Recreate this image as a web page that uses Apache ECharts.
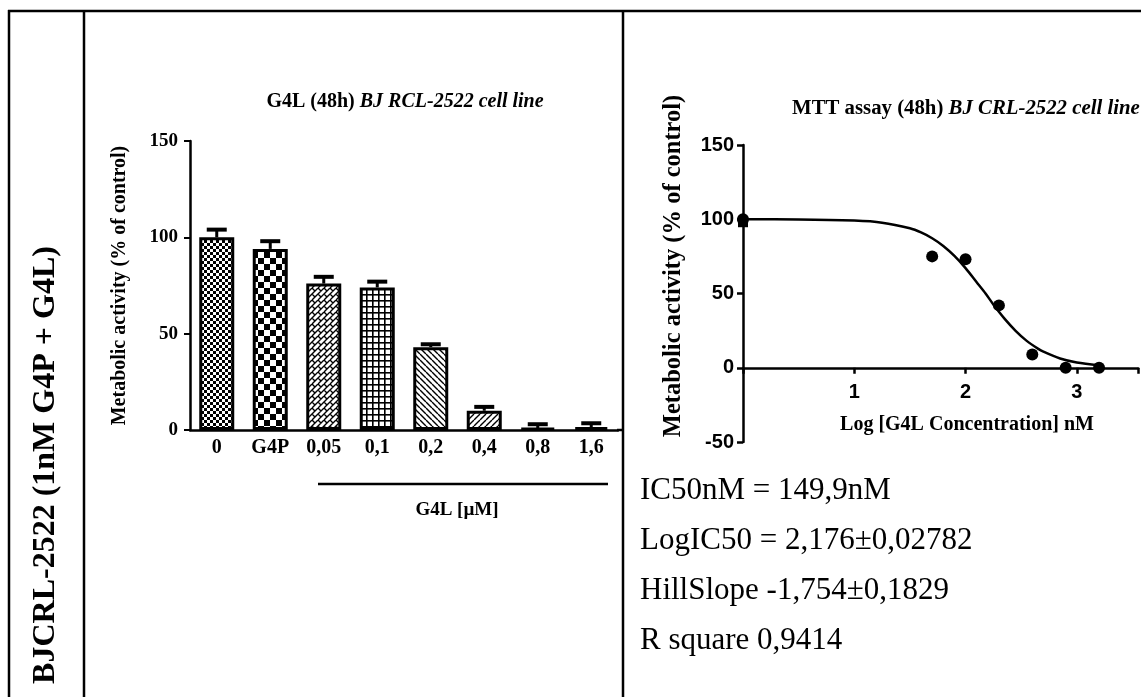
<!DOCTYPE html>
<html>
<head>
<meta charset="utf-8">
<script src="https://cdn.jsdelivr.net/npm/echarts@6/dist/echarts.min.js"></script>
<style>
  html, body { margin: 0; padding: 0; background: #fff; }
  #chart { width: 1141px; height: 697px; }
</style>
</head>
<body>
<div id="chart"></div>
<script>
// ---- Bar chart: G4L dose series (metabolic activity, % of control) ----
const barCategories = ['0', 'G4P', '0,05', '0,1', '0,2', '0,4', '0,8', '1,6'];
const barValues = [100, 94, 76, 74, 43, 10, 1, 1.5];
const barErrors = [4, 4, 3.5, 3, 1.5, 2, 2, 2];

// ---- Dose-response: log[G4L] (nM) vs metabolic activity ----
const doseLogConc = [1.70, 2.00, 2.30, 2.60, 2.90, 3.20];
const doseResponse = [75, 73, 42, 9, 0, 0];
const controlLogConc = [0, 0];
const controlResponse = [100, 98];
const fitLogConc = [0, 0.5, 1.0, 1.25, 1.5, 1.6, 1.7, 1.8, 1.9, 2.0, 2.1, 2.18, 2.25, 2.35, 2.45, 2.55, 2.65, 2.7, 2.85, 3.0, 3.2];
const fitResponse = [100, 99.9, 99.1, 97.7, 93.9, 91.1, 87.2, 82.0, 75.3, 67.1, 57.6, 50, 42.6, 33.1, 24.9, 18.1, 12.9, 10.8, 6.2, 3.5, 1.6];

// ---- Fit summary ----
const fitSummary = [
  'IC50nM = 149,9nM',
  'LogIC50 = 2,176\u00b10,02782',
  'HillSlope -1,754\u00b10,1829',
  'R square 0,9414'
];

const SERIF = '"Liberation Serif", "Times New Roman", serif';
const SANS = '"Liberation Sans", Arial, sans-serif';

// Hatch fills for the bars, built as small repeating canvas tiles
function tile(size, draw) {
  const c = document.createElement('canvas');
  c.width = size; c.height = size;
  const g = c.getContext('2d');
  g.fillStyle = '#fff'; g.fillRect(0, 0, size, size);
  g.fillStyle = '#000'; g.strokeStyle = '#000';
  draw(g, size);
  return { image: c, repeat: 'repeat' };
}
const fineCheck = tile(6, g => { g.fillRect(0, 0, 3, 3); g.fillRect(3, 3, 3, 3); });
const coarseCheck = tile(12, g => { g.fillRect(0, 0, 6, 6); g.fillRect(6, 6, 6, 6); });
const bricks = tile(12, g => {
  g.lineWidth = 1.4; g.beginPath();
  [0, 6, 12, 18, 24].forEach(k => { g.moveTo(k, 0); g.lineTo(k - 12, 12); });
  [[0, 0, 3, 3], [6, 0, 9, 3], [6, 6, 9, 9], [0, 6, 3, 9]].forEach(s => { g.moveTo(s[0], s[1]); g.lineTo(s[2], s[3]); });
  g.stroke();
});
const gridFill = tile(6, g => { g.fillRect(0, 0, 6, 1.6); g.fillRect(0, 0, 1.6, 6); });
const backHatch = tile(6, g => {
  g.lineWidth = 1.4; g.beginPath();
  [-6, 0, 6].forEach(k => { g.moveTo(k, 0); g.lineTo(k + 6, 6); });
  g.stroke();
});
const fwdHatch = tile(6, g => {
  g.lineWidth = 1.4; g.beginPath();
  [0, 6, 12].forEach(k => { g.moveTo(k, 0); g.lineTo(k - 6, 6); });
  g.stroke();
});
const barFills = [fineCheck, coarseCheck, bricks, gridFill, backHatch, fwdHatch, fwdHatch, fwdHatch];

const chart = echarts.init(document.getElementById('chart'), null, { renderer: 'canvas' });

const axisBlack = { color: '#000', width: 2.5 };
const LOG_MAX = 3.55;

const option = {
  animation: false,
  backgroundColor: '#fff',
  grid: [
    // bar chart
    { left: 190, top: 141, width: 428, height: 289 },
    // dose-response plotting area (0..150), its x axis sits on y = 0
    { left: 743, top: 145, width: 398, height: 222.75 },
    // full-height frame carrying the -50..150 y axis
    { left: 743, top: 145, width: 398, height: 297 }
  ],
  xAxis: [
    {
      gridIndex: 0, type: 'category', data: barCategories,
      axisLine: { lineStyle: axisBlack },
      axisTick: { alignWithLabel: true, length: 6, lineStyle: { color: '#000', width: 2 } },
      axisLabel: { color: '#000', fontFamily: SERIF, fontWeight: 'bold', fontSize: 20, margin: 8 }
    },
    {
      gridIndex: 1, type: 'value', min: 0, max: LOG_MAX, interval: 1,
      axisLine: { onZero: false, lineStyle: axisBlack },
      axisTick: { length: 6, lineStyle: { color: '#000', width: 2.5 } },
      axisLabel: {
        color: '#000', fontFamily: SANS, fontWeight: 'bold', fontSize: 20, margin: 15,
        formatter: v => (Number.isInteger(v) && v >= 1 && v <= 3) ? String(v) : ''
      },
      splitLine: { show: false }
    },
    { gridIndex: 2, type: 'value', min: 0, max: LOG_MAX, show: false }
  ],
  yAxis: [
    {
      gridIndex: 0, type: 'value', min: 0, max: 150, interval: 50,
      name: 'Metabolic activity (% of control)', nameLocation: 'middle', nameGap: 60, nameRotate: 90,
      nameTextStyle: { color: '#000', fontFamily: SERIF, fontWeight: 'bold', fontSize: 20 },
      axisLine: { show: true, lineStyle: axisBlack },
      axisTick: { show: true, length: 6, lineStyle: { color: '#000', width: 2 } },
      axisLabel: { color: '#000', fontFamily: SERIF, fontWeight: 'bold', fontSize: 19, margin: 12 },
      splitLine: { show: false }
    },
    { gridIndex: 1, type: 'value', min: 0, max: 150, show: false },
    {
      gridIndex: 2, type: 'value', min: -50, max: 150, interval: 50,
      axisLine: { show: true, onZero: false, lineStyle: axisBlack },
      axisTick: { show: true, length: 6, lineStyle: { color: '#000', width: 2.5 } },
      axisLabel: { color: '#000', fontFamily: SANS, fontWeight: 'bold', fontSize: 20, margin: 9 },
      splitLine: { show: false }
    }
  ],
  series: [
    {
      type: 'bar', xAxisIndex: 0, yAxisIndex: 0, barWidth: 35,
      data: barValues.map((v, i) => ({ value: v, itemStyle: { color: barFills[i] } })),
      itemStyle: { borderColor: '#000', borderWidth: 3 }
    },
    {
      // upper error bars (SEM) on the bars
      type: 'custom', xAxisIndex: 0, yAxisIndex: 0, z: 5,
      data: barValues.map((v, i) => [i, v, barErrors[i]]),
      renderItem: (params, api) => {
        const i = api.value(0), v = api.value(1), e = api.value(2);
        const base = api.coord([i, v]);
        const top = api.coord([i, v + e]);
        const hw = 10;
        return {
          type: 'group',
          children: [
            { type: 'line', shape: { x1: base[0], y1: base[1], x2: top[0], y2: top[1] }, style: { stroke: '#000', lineWidth: 3 } },
            { type: 'line', shape: { x1: top[0] - hw, y1: top[1], x2: top[0] + hw, y2: top[1] }, style: { stroke: '#000', lineWidth: 4 } }
          ]
        };
      }
    },
    {
      // fitted sigmoidal dose-response curve
      type: 'line', xAxisIndex: 1, yAxisIndex: 1, smooth: 0.3, showSymbol: false, z: 3,
      data: fitLogConc.map((x, i) => [x, fitResponse[i]]),
      lineStyle: { color: '#000', width: 2.5 }
    },
    {
      type: 'scatter', xAxisIndex: 1, yAxisIndex: 1, symbol: 'circle', symbolSize: 12, z: 4, clip: false,
      data: doseLogConc.map((x, i) => [x, doseResponse[i]]),
      itemStyle: { color: '#000', opacity: 1 }
    },
    {
      type: 'scatter', xAxisIndex: 1, yAxisIndex: 1, z: 4, clip: false,
      data: [
        { value: [controlLogConc[0], controlResponse[0]], symbol: 'circle', symbolSize: 12 },
        { value: [controlLogConc[1], controlResponse[1]], symbol: 'rect', symbolSize: 10 }
      ],
      itemStyle: { color: '#000', opacity: 1 }
    }
  ],
  graphic: [
    // table rules
    { type: 'line', shape: { x1: 8, y1: 11, x2: 1141, y2: 11 }, style: { stroke: '#000', lineWidth: 2.5 } },
    { type: 'line', shape: { x1: 9, y1: 10, x2: 9, y2: 697 }, style: { stroke: '#000', lineWidth: 2.5 } },
    { type: 'line', shape: { x1: 84, y1: 10, x2: 84, y2: 697 }, style: { stroke: '#000', lineWidth: 2.5 } },
    { type: 'line', shape: { x1: 623, y1: 10, x2: 623, y2: 697 }, style: { stroke: '#000', lineWidth: 2.5 } },
    // bar chart baseline continues up to the cell rule
    { type: 'line', shape: { x1: 617, y1: 430, x2: 623, y2: 430 }, style: { stroke: '#000', lineWidth: 2.5 } },
    // row heading
    {
      type: 'text', x: 46, y: 465, rotation: Math.PI / 2,
      style: { text: 'BJCRL-2522 (1nM G4P + G4L)', fill: '#000', font: 'bold 32px ' + SERIF, textAlign: 'center', textVerticalAlign: 'middle' }
    },
    // bar chart title
    {
      type: 'text', x: 405, y: 102,
      style: {
        text: '{a|G4L (48h) }{b|BJ RCL-2522 cell line}', fill: '#000', textAlign: 'center', textVerticalAlign: 'middle',
        rich: {
          a: { fontFamily: SERIF, fontWeight: 'bold', fontSize: 20 },
          b: { fontFamily: SERIF, fontWeight: 'bold', fontStyle: 'italic', fontSize: 20 }
        }
      }
    },
    // treatment bracket under the G4L doses
    { type: 'line', shape: { x1: 318, y1: 484, x2: 608, y2: 484 }, style: { stroke: '#000', lineWidth: 2.5 } },
    {
      type: 'text', x: 457, y: 510,
      style: { text: 'G4L [\u00b5M]', fill: '#000', font: 'bold 19px ' + SERIF, textAlign: 'center', textVerticalAlign: 'middle' }
    },
    // dose-response chart title
    {
      type: 'text', x: 792, y: 109,
      style: {
        text: '{a|MTT assay (48h) }{b|BJ CRL-2522 cell line}', fill: '#000', textAlign: 'left', textVerticalAlign: 'middle',
        rich: {
          a: { fontFamily: SERIF, fontWeight: 'bold', fontSize: 20.8 },
          b: { fontFamily: SERIF, fontWeight: 'bold', fontStyle: 'italic', fontSize: 20.8 }
        }
      }
    },
    {
      type: 'text', x: 674, y: 266, rotation: Math.PI / 2,
      style: { text: 'Metabolic activity (% of control)', fill: '#000', font: 'bold 24.5px ' + SERIF, textAlign: 'center', textVerticalAlign: 'middle' }
    },
    {
      type: 'text', x: 967, y: 425,
      style: { text: 'Log [G4L Concentration] nM', fill: '#000', font: 'bold 20px ' + SERIF, textAlign: 'center', textVerticalAlign: 'middle' }
    },
    // fit summary
    ...fitSummary.map((t, i) => ({
      type: 'text', x: 640, y: 491 + i * 50,
      style: { text: t, fill: '#000', font: '31px ' + SERIF, textAlign: 'left', textVerticalAlign: 'middle' }
    }))
  ]
};

chart.setOption(option);
</script>
</body>
</html>
